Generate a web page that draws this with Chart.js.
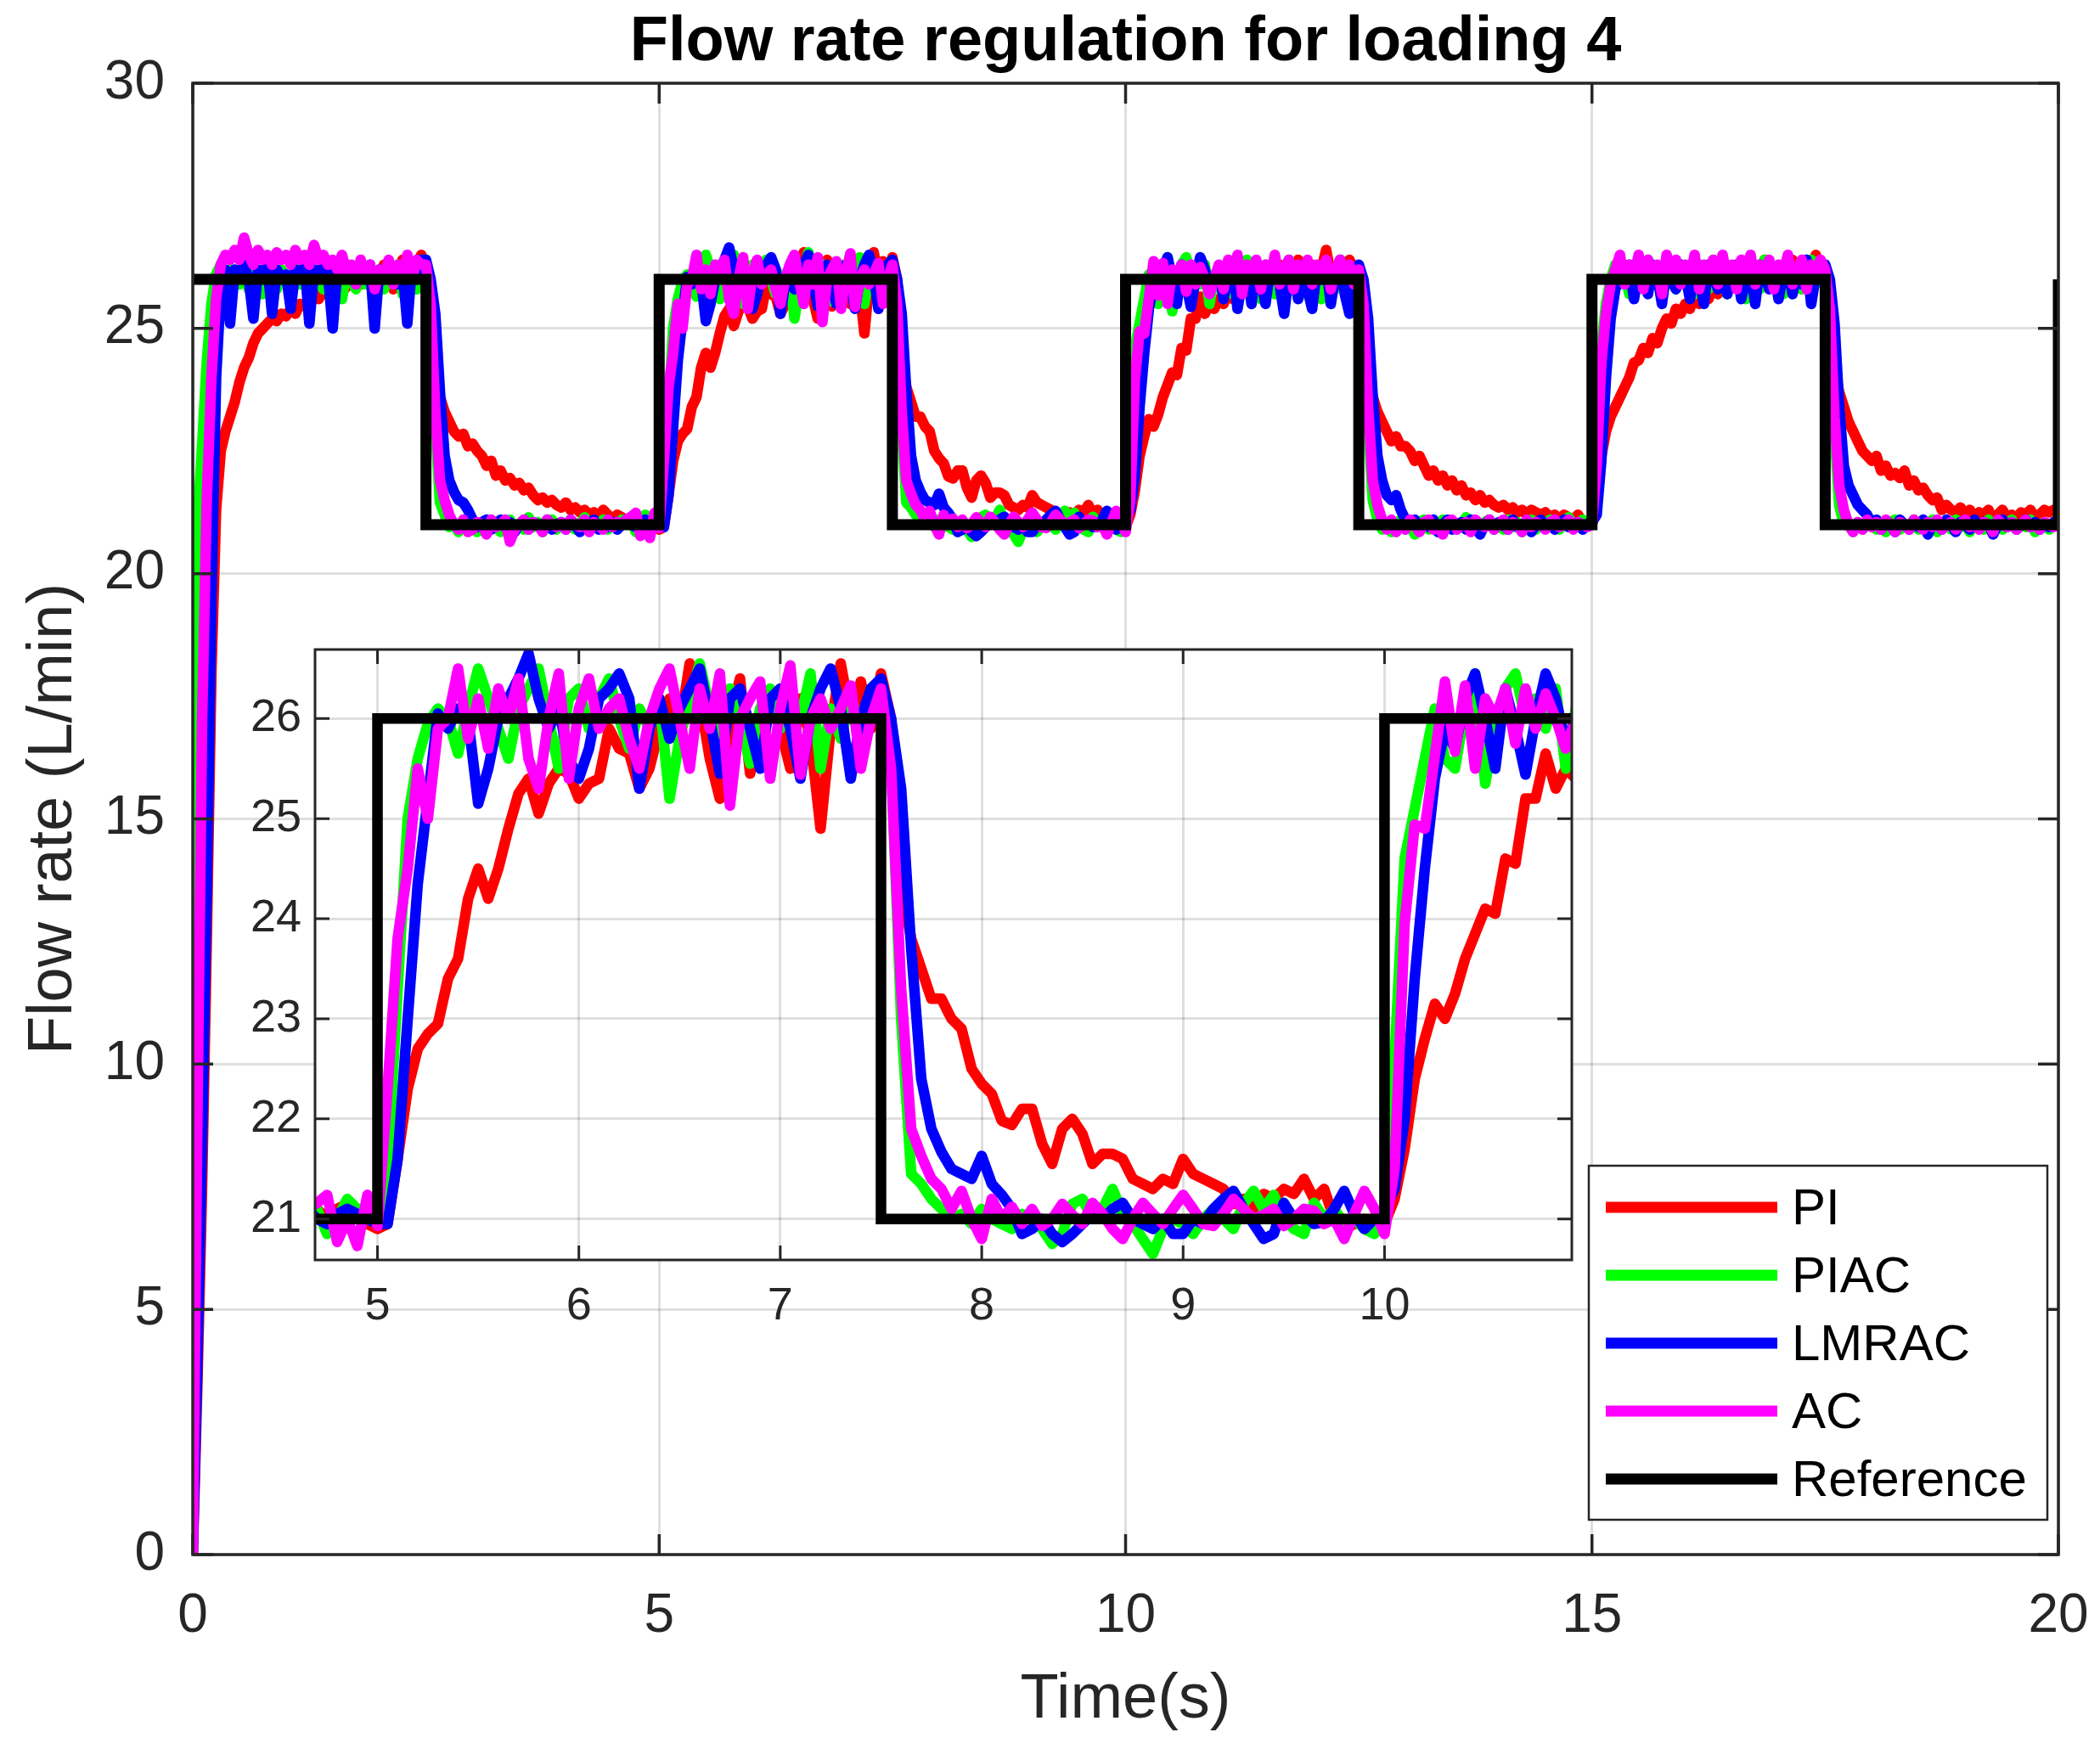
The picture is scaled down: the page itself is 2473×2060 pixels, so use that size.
<!DOCTYPE html>
<html>
<head>
<meta charset="utf-8">
<script src="https://cdn.jsdelivr.net/npm/chart.js@4.4.1/dist/chart.umd.min.js"></script>
<style>
html,body{margin:0;padding:0;background:#fff;}
#wrap{position:relative;width:2473px;height:2060px;overflow:hidden;}
#main{position:absolute;left:0;top:0;}
#inset{position:absolute;left:250px;top:740px;}
</style>
</head>
<body>
<div id="wrap">
<canvas id="main" width="2473" height="2060"></canvas>
<canvas id="inset" width="1640" height="860"></canvas>
</div>
<script>
// ---------------- DATA ----------------
const timeStep = 0.05; // sampling interval of the series (s), starting at t = 0

const PI = [
0, 3.5, 7.5, 12.5, 18.0, 21.3, 22.5, 22.9, 23.2, 23.5,
23.9, 24.2, 24.4, 24.7, 24.9, 25.0, 25.1, 25.2, 25.15, 25.3,
25.25, 25.4, 25.3, 25.5, 25.45, 25.6, 25.7, 25.6, 25.75, 25.7,
25.8, 25.9, 25.75, 25.85, 25.95, 26.1, 25.9, 26.0, 26.2, 25.85,
26.0, 26.3, 26.1, 25.8, 26.2, 26.4, 26.0, 25.9, 26.3, 26.5,
26.2, 24.8, 23.9, 23.6, 23.3, 23.1, 22.9, 22.8, 22.85, 22.6,
22.65, 22.5, 22.4, 22.2, 22.3, 22.0, 22.1, 21.9, 21.95, 21.8,
21.85, 21.7, 21.75, 21.6, 21.5, 21.55, 21.45, 21.5, 21.4, 21.35,
21.45, 21.3, 21.35, 21.25, 21.3, 21.2, 21.25, 21.15, 21.3, 21.2,
21.1, 21.2, 21.15, 21.05, 21.1, 21.0, 21.1, 21.15, 21.0, 20.95,
20.9, 20.95, 21.6, 22.3, 22.7, 22.85, 22.95, 23.4, 23.6, 24.2,
24.5, 24.2, 24.5, 24.9, 25.25, 25.4, 25.05, 25.35, 25.5, 25.45,
25.2, 25.35, 25.4, 25.9, 25.7, 25.65, 25.3, 25.5, 25.9, 26.2,
25.9, 26.55, 26.2, 25.6, 25.2, 26.0, 26.4, 25.45, 25.9, 26.2,
25.9, 25.5, 26.2, 25.8, 24.9, 25.9, 26.55, 26.0, 26.37, 25.9,
26.45, 26.0, 24.35, 23.8, 23.5, 23.2, 23.2, 23.0, 22.9, 22.5,
22.35, 22.25, 21.98, 21.94, 22.1, 22.1, 21.75, 21.55, 21.9, 22.0,
21.85, 21.55, 21.65, 21.65, 21.6, 21.4, 21.35, 21.3, 21.4, 21.35,
21.6, 21.45, 21.4, 21.35, 21.3, 21.15, 21.2, 21.1, 21.25, 21.2,
21.3, 21.25, 21.4, 21.2, 21.3, 21.0, 20.9, 20.95, 21.0, 20.95,
20.95, 21.2, 21.7, 22.4, 22.8, 23.15, 23.0, 23.25, 23.6, 23.85,
24.1, 24.05, 24.6, 24.55, 25.2, 25.2, 25.65, 25.3, 25.5, 25.4,
25.6, 25.5, 25.75, 25.6, 25.9, 25.7, 26.0, 25.8, 26.1, 25.75,
26.0, 26.2, 25.9, 26.3, 26.0, 25.8, 26.2, 26.4, 26.1, 25.9,
26.3, 26.0, 26.2, 26.6, 26.1, 25.9, 26.3, 26.1, 26.4, 26.2,
26.0, 24.9, 24.0, 23.6, 23.3, 23.1, 22.9, 22.7, 22.8, 22.6,
22.6, 22.5, 22.3, 22.4, 22.2, 22.0, 22.1, 21.9, 22.0, 21.8,
21.9, 21.7, 21.8, 21.6, 21.65, 21.5, 21.6, 21.45, 21.5, 21.4,
21.35, 21.4, 21.3, 21.35, 21.25, 21.3, 21.2, 21.3, 21.25, 21.2,
21.25, 21.15, 21.2, 21.1, 21.2, 21.15, 21.1, 21.2, 21.05, 21.0,
21.0, 21.4, 22.4, 22.9, 23.2, 23.4, 23.6, 23.8, 24.0, 24.3,
24.35, 24.6, 24.5, 24.8, 24.7, 25.0, 25.2, 25.1, 25.4, 25.3,
25.5, 25.4, 25.7, 25.5, 25.8, 25.6, 25.9, 25.7, 26.0, 25.8,
26.1, 25.9, 26.2, 25.8, 26.3, 26.0, 25.9, 26.4, 26.1, 26.2,
25.9, 26.3, 26.0, 26.4, 26.1, 25.8, 26.3, 26.2, 26.5, 26.1,
26.0, 25.0, 24.2, 23.7, 23.4, 23.1, 22.9, 22.7, 22.5, 22.4,
22.3, 22.4, 22.1, 22.2, 22.0, 22.05, 21.95, 22.1, 21.8, 21.9,
21.7, 21.75, 21.6, 21.5, 21.55, 21.3, 21.4, 21.3, 21.25, 21.35,
21.2, 21.3, 21.15, 21.25, 21.2, 21.3, 21.1, 21.2, 21.3, 21.15,
21.2, 21.1, 21.25, 21.2, 21.3, 21.15, 21.2, 21.3, 21.25, 21.3,
21.25
];

const PIAC = [
0, 21.0, 22.6, 24.3, 25.5, 26.1, 26.3, 26.0, 26.2, 25.9,
25.9, 26.2, 25.8, 26.3, 26.0, 25.7, 26.1, 26.3, 25.8, 26.2,
26.0, 25.8, 26.3, 25.9, 26.1, 25.7, 26.2, 26.0, 25.8, 26.3,
25.9, 26.1, 25.6, 26.2, 26.0, 25.8, 26.3, 25.9, 26.1, 25.7,
26.2, 25.8, 26.1, 25.9, 26.3, 25.7, 26.0, 26.2, 25.8, 26.4,
26.1, 25.6, 23.0, 21.45, 21.2, 20.95, 21.0, 20.85, 21.1, 20.9,
21.0, 20.85, 21.05, 20.9, 21.1, 20.95, 20.85, 21.0, 21.1, 20.9,
21.0, 20.9, 21.15, 20.95, 21.05, 20.85, 21.0, 21.1, 20.9, 21.05,
20.95, 21.1, 20.9, 21.0, 21.15, 20.9, 21.05, 20.95, 21.1, 20.9,
21.0, 20.95, 21.1, 21.0, 21.1, 20.85, 21.0, 21.2, 21.1, 21.05,
21.0, 21.5, 23.3, 25.0, 25.6, 25.95, 26.1, 26.0, 25.65, 26.1,
26.5, 26.2, 25.9, 25.6, 26.1, 26.3, 26.5, 26.0, 25.5, 26.2,
26.3, 25.9, 26.2, 26.4, 26.0, 25.7, 26.1, 25.9, 26.2, 25.2,
25.8, 26.2, 26.55, 26.1, 25.8, 26.3, 26.0, 25.55, 26.1, 26.3,
25.9, 26.2, 26.0, 26.45, 25.5, 26.1, 25.8, 26.2, 25.9, 26.3,
26.2, 25.6, 23.0, 21.45, 21.35, 21.2, 21.1, 21.0, 21.05, 20.95,
21.1, 21.0, 20.95, 20.9, 21.05, 21.0, 20.9, 20.75, 20.85, 21.15,
21.2, 21.0, 21.1, 21.3, 21.05, 20.95, 20.8, 20.65, 20.9, 21.0,
20.95, 20.85, 21.0, 21.1, 21.0, 20.9, 21.15, 21.28, 21.1, 21.24,
21.0, 20.9, 20.85, 21.16, 21.0, 21.1, 20.95, 21.0, 20.9, 20.85,
21.0, 22.6, 24.6, 25.1, 25.6, 26.1, 25.6, 25.5, 26.1, 26.45,
25.35, 25.9, 26.3, 26.45, 26.0, 26.2, 25.9, 26.3, 25.5, 26.1,
26.2, 25.8, 26.3, 25.7, 26.1, 25.9, 26.4, 25.8, 26.2, 25.6,
26.3, 26.0, 25.7, 26.2, 25.9, 26.4, 25.8, 26.1, 25.7, 26.3,
25.9, 26.2, 25.6, 26.3, 26.0, 25.8, 26.4, 25.9, 26.2, 26.0,
26.1, 25.6, 23.1, 21.5, 21.1, 20.9, 21.05, 20.85, 21.0, 21.1,
20.9, 21.0, 20.8, 21.05, 21.1, 20.9, 21.0, 20.85, 21.1, 20.95,
21.05, 20.9, 21.0, 21.15, 20.9, 21.0, 20.85, 21.05, 21.1, 20.95,
21.0, 20.9, 21.1, 20.95, 21.05, 20.85, 21.0, 21.1, 20.9, 21.05,
20.95, 21.1, 21.0, 20.9, 21.05, 21.15, 20.95, 21.0, 21.1, 21.0,
21.0, 22.5, 24.6, 25.5, 26.0, 26.3, 25.9, 26.2, 25.7, 26.3,
26.0, 25.8, 26.4, 25.9, 26.1, 25.6, 26.2, 26.0, 25.8, 26.3,
25.9, 26.2, 25.7, 26.3, 26.0, 25.8, 26.4, 25.9, 26.1, 25.7,
26.2, 25.9, 26.3, 25.6, 26.1, 26.0, 25.8, 26.4, 25.9, 26.2,
26.0, 25.7, 26.3, 25.9, 26.1, 25.8, 26.2, 26.4, 25.9, 26.1,
26.0, 25.5, 22.9, 21.4, 21.0, 21.0, 20.85, 21.05, 20.9, 21.0,
21.1, 20.9, 21.0, 20.85, 21.05, 21.1, 20.9, 21.0, 20.95, 21.1,
20.9, 21.05, 20.95, 21.1, 20.85, 21.0, 21.05, 20.9, 21.1, 20.95,
21.0, 20.85, 21.05, 21.0, 20.9, 21.1, 20.95, 21.05, 20.9, 21.0,
21.1, 20.9, 21.0, 20.95, 21.1, 20.85, 21.0, 21.05, 20.9, 21.0,
21.05
];

const LMRAC = [
0, 4.0, 8.5, 13.5, 19.5, 24.0, 25.8, 26.2, 25.1, 26.2,
26.1, 26.3, 26.0, 25.2, 26.2, 26.1, 26.3, 25.3, 26.2, 26.0,
26.1, 25.4, 26.2, 26.0, 26.3, 25.1, 26.2, 26.0, 26.3, 26.1,
25.0, 26.2, 26.0, 26.3, 26.1, 25.9, 26.2, 26.0, 26.3, 25.0,
26.2, 26.0, 26.3, 26.1, 25.9, 26.2, 25.1, 26.3, 26.0, 26.4,
26.4, 26.0, 25.3, 23.7, 22.4, 21.9, 21.67, 21.5, 21.45, 21.3,
21.1, 20.95, 21.05, 21.1, 20.9, 21.0, 21.1, 20.95, 21.05, 20.85,
21.0, 21.1, 20.9, 21.05, 21.0, 20.95, 21.1, 20.9, 21.0, 21.05,
20.9, 21.1, 21.0, 20.85, 21.05, 21.0, 21.1, 20.9, 21.0, 20.95,
21.05, 20.9, 21.0, 21.1, 21.0, 20.95, 21.05, 21.1, 21.05, 21.0,
20.95, 20.95, 21.6, 23.0, 24.35, 25.2, 26.05, 25.9, 26.1, 26.0,
25.15, 25.5, 26.0, 26.2, 26.4, 26.65, 26.2, 25.9, 26.1, 25.6,
25.4, 25.7, 26.2, 26.3, 26.45, 26.2, 25.3, 25.9, 26.2, 25.8,
26.1, 26.3, 26.5, 26.0, 25.45, 26.2, 26.3, 25.9, 25.5, 26.2,
26.3, 25.9, 25.4, 26.0, 26.3, 26.5, 26.1, 25.4, 26.0, 26.3,
26.4, 26.0, 25.3, 23.7, 22.4, 21.9, 21.67, 21.5, 21.45, 21.4,
21.63, 21.35, 21.24, 21.1, 20.85, 20.9, 21.0, 20.85, 20.77, 20.85,
20.95, 21.05, 21.0, 21.1, 21.16, 21.0, 20.95, 20.9, 21.0, 20.85,
20.85, 21.0, 20.95, 21.1, 21.2, 21.28, 21.1, 20.95, 20.8, 20.85,
21.16, 21.0, 21.05, 20.95, 20.97, 21.1, 21.28, 21.05, 20.9, 21.0,
21.1, 21.3, 22.0, 23.4, 24.5, 25.4, 25.9, 25.7, 26.2, 26.45,
26.0, 25.5, 26.3, 25.9, 25.44, 26.0, 26.45, 26.2, 25.75, 26.0,
26.2, 25.6, 26.1, 26.3, 25.4, 26.0, 26.2, 25.5, 26.3, 26.0,
25.5, 26.2, 26.4, 25.9, 25.3, 26.1, 26.2, 25.6, 26.3, 25.8,
25.4, 26.2, 26.0, 26.3, 25.5, 26.1, 26.4, 25.7, 25.3, 26.2,
26.3, 26.0, 25.2, 23.6, 22.4, 21.9, 21.6, 21.5, 21.6, 21.3,
21.1, 21.0, 21.1, 20.9, 21.05, 20.95, 21.1, 20.85, 21.0, 21.1,
20.9, 21.0, 21.05, 20.9, 21.1, 20.95, 20.8, 21.0, 21.1, 20.9,
21.05, 21.0, 20.9, 21.1, 20.95, 21.0, 21.05, 20.85, 21.0, 21.1,
20.95, 21.05, 20.9, 21.0, 21.1, 20.95, 21.0, 21.05, 20.9, 21.0,
21.05, 21.2, 22.3, 24.0, 25.2, 25.8, 26.1, 25.9, 26.3, 25.6,
26.2, 26.0, 25.7, 26.3, 26.1, 25.5, 26.2, 26.0, 25.8, 26.3,
26.1, 25.6, 26.2, 26.0, 25.5, 26.3, 26.1, 25.8, 26.2, 25.7,
26.1, 26.3, 25.6, 26.0, 26.2, 25.5, 26.3, 26.1, 25.8, 26.2,
25.6, 26.1, 26.3, 25.7, 26.2, 25.9, 26.4, 25.5, 26.1, 26.3,
26.3, 26.0, 25.1, 23.4, 22.2, 21.8, 21.6, 21.4, 21.3, 21.2,
21.0, 21.1, 20.9, 21.05, 21.0, 20.85, 21.1, 21.0, 20.9, 21.05,
20.95, 21.1, 20.8, 21.0, 21.05, 20.9, 21.1, 21.0, 20.85, 21.05,
21.0, 20.9, 21.1, 20.95, 21.05, 21.0, 20.8, 21.0, 21.1, 20.95,
21.05, 20.9, 21.0, 21.1, 20.95, 21.05, 20.9, 21.0, 20.95, 21.05,
21.0
];

const AC = [
0, 9.0, 17.0, 21.5, 24.0, 25.6, 26.3, 26.5, 26.4, 26.6,
26.4, 26.85, 26.5, 26.3, 26.6, 26.4, 26.5, 26.3, 26.55, 26.4,
26.5, 26.3, 26.6, 26.4, 26.5, 26.3, 26.7, 26.4, 26.5, 26.3,
26.4, 26.2, 26.5, 26.1, 26.3, 25.9, 26.4, 26.0, 26.3, 25.8,
26.2, 26.0, 26.4, 25.9, 26.3, 26.1, 26.5, 26.0, 26.4, 26.3,
26.3, 25.5, 23.3, 21.9, 21.5, 21.2, 21.0, 20.9, 21.1, 20.85,
20.9, 21.05, 21.0, 20.8, 21.1, 20.95, 21.0, 21.1, 20.65, 20.9,
21.0, 21.1, 20.9, 21.05, 21.0, 20.85, 21.1, 21.0, 20.95, 21.05,
20.9, 21.1, 21.0, 20.95, 21.1, 20.85, 21.05, 21.0, 20.9, 21.1,
20.95, 21.05, 21.0, 21.1, 21.16, 21.24, 20.77, 21.0, 20.73, 21.24,
20.93, 22.3, 23.8, 24.5, 25.5, 25.0, 25.9, 26.0, 26.5, 25.8,
26.2, 25.7, 26.3, 26.0, 26.4, 25.6, 25.3, 26.0, 26.45, 25.4,
26.1, 26.4, 25.9, 26.1, 26.2, 25.8, 25.5, 26.0, 26.3, 26.5,
26.0, 25.5, 26.3, 25.9, 26.45, 25.13, 26.0, 26.2, 26.37, 25.4,
26.1, 26.53, 25.44, 26.0, 26.2, 25.9, 26.1, 26.33, 25.5, 26.0,
26.3, 25.5, 23.3, 21.9, 21.63, 21.4, 21.3, 21.1, 21.28, 21.0,
20.8, 21.2, 21.0, 21.12, 20.95, 21.1, 20.93, 21.0, 21.15, 21.04,
20.95, 21.16, 21.05, 20.9, 20.8, 21.0, 21.16, 21.05, 20.95, 21.1,
21.24, 21.1, 20.95, 20.93, 21.05, 21.2, 21.1, 21.0, 21.04, 21.1,
20.93, 21.0, 21.1, 21.08, 20.95, 21.0, 20.8, 21.05, 21.28, 21.1,
20.85, 21.5, 23.96, 24.94, 24.9, 25.63, 26.37, 25.67, 26.33, 25.5,
26.2, 26.0, 26.3, 25.75, 26.3, 25.9, 26.25, 26.0, 25.7, 26.0,
26.3, 25.8, 26.4, 26.0, 26.5, 25.7, 26.3, 26.1, 26.4, 25.8,
26.3, 26.0, 26.5, 25.9, 26.2, 26.4, 25.8, 26.3, 26.1, 26.4,
25.9, 26.3, 26.0, 26.4, 25.8, 26.2, 26.4, 26.0, 26.3, 25.9,
26.2, 25.5, 23.4, 21.9, 21.4, 21.1, 20.9, 21.1, 20.85, 21.0,
20.9, 21.1, 21.0, 20.85, 21.05, 21.1, 20.9, 21.0, 20.8, 21.05,
21.1, 20.9, 21.0, 21.05, 20.85, 21.1, 21.0, 20.95, 21.1, 20.9,
21.0, 21.1, 20.9, 21.05, 21.0, 20.85, 21.1, 20.95, 21.05, 21.0,
20.9, 21.05, 21.1, 20.95, 21.0, 21.1, 20.9, 21.05, 21.0, 20.95,
21.0, 22.2, 24.3, 25.3, 25.9, 26.2, 26.5, 25.9, 26.3, 26.0,
26.5, 25.8, 26.4, 26.0, 26.3, 25.7, 26.5, 26.1, 26.4, 25.9,
26.3, 26.0, 26.5, 25.8, 26.3, 26.1, 26.4, 25.9, 26.5, 26.0,
26.3, 25.8, 26.4, 26.1, 26.5, 25.9, 26.3, 26.0, 26.4, 25.8,
26.3, 26.1, 26.5, 25.9, 26.2, 26.4, 25.8, 26.3, 26.1, 26.4,
26.2, 25.4, 23.2, 21.8, 21.3, 21.0, 20.85, 21.05, 20.9, 21.1,
20.95, 21.05, 20.9, 21.1, 21.0, 20.85, 21.05, 21.0, 20.9, 21.1,
21.0, 20.9, 21.05, 20.95, 21.1, 20.9, 21.0, 21.05, 20.9, 21.0,
21.1, 20.95, 21.0, 20.9, 21.05, 21.0, 20.85, 21.1, 21.0, 20.95,
21.05, 20.9, 21.0, 21.1, 20.95, 21.0, 20.9, 21.05, 21.0, 20.95,
21.0
];

// Reference set-point (step signal): corner times and values
const refTimes  = [0, 2.5, 2.5, 5, 5, 7.5, 7.5, 10, 10, 12.5, 12.5, 15, 15, 17.5, 17.5, 20, 20];
const refValues = [26, 26, 21, 21, 26, 26, 21, 21, 26, 26, 21, 21, 26, 26, 21, 21, 26];

const seriesNames = ['PI', 'PIAC', 'LMRAC', 'AC'];
const seriesValues = [PI, PIAC, LMRAC, AC];

// Tick values
const mainXTicks  = [0, 5, 10, 15, 20];
const mainYTicks  = [0, 5, 10, 15, 20, 25, 30];
const insetXTicks = [5, 6, 7, 8, 9, 10];
const insetYTicks = [21, 22, 23, 24, 25, 26];

const titleText = 'Flow rate regulation for loading 4';
const xTitle = 'Time(s)';
const yTitle = 'Flow rate (L/min)';

// ---------------- STYLE ----------------
const FONT = '"Liberation Sans", Arial, Helvetica, sans-serif';
const seriesColors = ['#ff0000', '#00ff00', '#0000ff', '#ff00ff'];
const refColor = '#000000';
const axisColor = '#262626';
const gridColor = 'rgba(38,38,38,0.15)';

const sampleTimes = PI.map((_, i) => Math.round(i * timeStep * 100) / 100);

function buildDatasets(lineW, refW) {
  const ds = [{
    label: 'Reference',
    data: refTimes.map((t, i) => ({x: t, y: refValues[i]})),
    borderColor: refColor, borderWidth: refW,
    borderJoinStyle: 'miter', borderCapStyle: 'butt'
  }];
  for (let k = seriesNames.length - 1; k >= 0; k--) {
    ds.push({
      label: seriesNames[k],
      data: seriesValues[k].map((v, i) => ({x: sampleTimes[i], y: v})),
      borderColor: seriesColors[k], borderWidth: lineW,
      borderJoinStyle: 'round', borderCapStyle: 'round'
    });
  }
  return ds.map(d => Object.assign(d, {pointRadius: 0, pointHoverRadius: 0, fill: false, tension: 0}));
}

const framePlugin = {
  id: 'frame',
  beforeDraw(chart, args, opts) {
    if (!opts.bg) return;
    const a = chart.chartArea, ctx = chart.ctx;
    ctx.save();
    ctx.fillStyle = '#ffffff';
    ctx.fillRect(a.left, a.top, a.right - a.left, a.bottom - a.top);
    ctx.restore();
  },
  afterDraw(chart, args, opts) {
    const {ctx, chartArea: a, scales: {x, y}} = chart;
    ctx.save();
    ctx.strokeStyle = axisColor;
    ctx.lineWidth = opts.lw;
    ctx.beginPath();
    x.ticks.forEach(t => {
      const px = x.getPixelForValue(t.value);
      ctx.moveTo(px, a.bottom); ctx.lineTo(px, a.bottom - opts.len);
      ctx.moveTo(px, a.top); ctx.lineTo(px, a.top + opts.len);
    });
    y.ticks.forEach(t => {
      const py = y.getPixelForValue(t.value);
      ctx.moveTo(a.left, py); ctx.lineTo(a.left + opts.len, py);
      ctx.moveTo(a.right, py); ctx.lineTo(a.right - opts.len, py);
    });
    ctx.stroke();
    ctx.strokeRect(a.left, a.top, a.right - a.left, a.bottom - a.top);
    ctx.restore();
  }
};

const decorPlugin = {
  id: 'decor',
  afterDraw(chart) {
    const {ctx, chartArea: a} = chart;
    ctx.save();
    // title
    ctx.fillStyle = '#000000';
    ctx.font = 'bold 74px ' + FONT;
    ctx.textAlign = 'center';
    ctx.textBaseline = 'middle';
    ctx.fillText(titleText, (a.left + a.right) / 2, 51);
    // legend
    const bx = a.right - 553, by = a.bottom - 458, bw = 540, bh = 417;
    ctx.fillStyle = '#ffffff';
    ctx.fillRect(bx, by, bw, bh);
    ctx.strokeStyle = axisColor;
    ctx.lineWidth = 2.5;
    ctx.strokeRect(bx, by, bw, bh);
    const names = seriesNames.concat(['Reference']);
    const cols = seriesColors.concat([refColor]);
    ctx.font = '60px ' + FONT;
    ctx.textAlign = 'left';
    names.forEach((n, j) => {
      const yy = by + 49 + j * 80;
      ctx.strokeStyle = cols[j];
      ctx.lineWidth = 13;
      ctx.lineCap = 'butt';
      ctx.beginPath();
      ctx.moveTo(bx + 20, yy); ctx.lineTo(bx + 222, yy);
      ctx.stroke();
      ctx.fillStyle = '#000000';
      ctx.fillText(n, bx + 239, yy + 3);
    });
    ctx.restore();
  }
};

function tickSetter(arr) { return s => { s.ticks = arr.map(v => ({value: v})); }; }
function fixX(h) { return s => { s.height = h; s.paddingLeft = 0; s.paddingRight = 0; }; }
function fixY(w) { return s => { s.width = w; s.paddingTop = 0; s.paddingBottom = 0; }; }

// ---------------- MAIN CHART ----------------
new Chart(document.getElementById('main'), {
  type: 'line',
  data: {datasets: buildDatasets(12.5, 13)},
  plugins: [framePlugin, decorPlugin],
  options: {
    responsive: false, animation: false, devicePixelRatio: 1,
    events: [],
    layout: {padding: {left: 0, right: 49, top: 98, bottom: 0}},
    plugins: {
      legend: {display: false}, tooltip: {enabled: false}, title: {display: false},
      frame: {len: 24, lw: 3.5, bg: false}
    },
    scales: {
      x: {
        type: 'linear', min: 0, max: 20,
        afterBuildTicks: tickSetter(mainXTicks),
        afterFit: fixX(229),
        ticks: {font: {family: FONT, size: 64}, color: axisColor, padding: 35, maxRotation: 0, autoSkip: false},
        grid: {color: gridColor, lineWidth: 3, drawTicks: false},
        border: {display: false},
        title: {display: true, text: xTitle, font: {family: FONT, size: 74}, color: axisColor, padding: {top: 0, bottom: 13}}
      },
      y: {
        type: 'linear', min: 0, max: 30,
        afterBuildTicks: tickSetter(mainYTicks),
        afterFit: fixY(227),
        ticks: {font: {family: FONT, size: 64}, color: axisColor, padding: 33, autoSkip: false},
        grid: {color: gridColor, lineWidth: 3, drawTicks: false},
        border: {display: false},
        title: {display: true, text: yTitle, font: {family: FONT, size: 74}, color: axisColor, padding: {top: 19, bottom: 0}}
      }
    }
  }
});

// ---------------- INSET CHART ----------------
new Chart(document.getElementById('inset'), {
  type: 'line',
  data: {datasets: buildDatasets(12.5, 12.5)},
  plugins: [framePlugin],
  options: {
    responsive: false, animation: false, devicePixelRatio: 1,
    events: [],
    layout: {padding: {left: 0, right: 39, top: 25, bottom: 0}},
    plugins: {
      legend: {display: false}, tooltip: {enabled: false}, title: {display: false},
      frame: {len: 17, lw: 3, bg: true}
    },
    scales: {
      x: {
        type: 'linear', min: 4.69, max: 10.93,
        afterBuildTicks: tickSetter(insetXTicks),
        afterFit: fixX(116),
        ticks: {font: {family: FONT, size: 54}, color: axisColor, padding: 23, maxRotation: 0, autoSkip: false},
        grid: {color: gridColor, lineWidth: 3, drawTicks: false},
        border: {display: false}
      },
      y: {
        type: 'linear', min: 20.59, max: 26.69,
        afterBuildTicks: tickSetter(insetYTicks),
        afterFit: fixY(121),
        ticks: {font: {family: FONT, size: 54}, color: axisColor, padding: 16, autoSkip: false},
        grid: {color: gridColor, lineWidth: 3, drawTicks: false},
        border: {display: false}
      }
    }
  }
});
</script>
</body>
</html>
